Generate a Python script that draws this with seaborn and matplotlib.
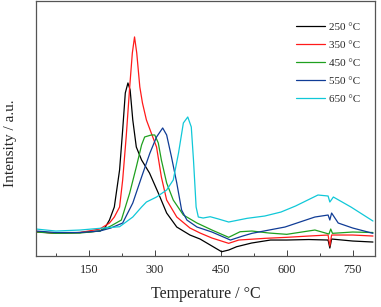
import pandas as pd
import numpy as np
import matplotlib.pyplot as plt
import seaborn as sns

# Curves (temperature in degC, intensity in arbitrary units)
t_250 = [30, 75, 130, 175, 186, 197, 208, 220, 227, 233, 239, 244, 250, 258, 270, 288, 308, 327, 350, 380,
         403, 430, 452, 468, 486, 520, 563, 600, 650, 694, 698, 702, 750, 796]
i_250 = [24.5, 22.7, 23.5, 25, 27.7, 36, 49, 86, 126, 163, 173, 166, 136, 109, 96, 83, 63, 43, 29, 21,
         17, 10, 4.3, 6, 9.3, 13, 16, 16, 16.5, 16, 8, 17, 15, 14]

t_350 = [30, 75, 130, 175, 197, 208, 220, 227, 235, 243, 249, 254, 259, 266, 272, 281, 292, 304, 315, 327,
         350, 380, 403, 430, 468, 491, 551, 600, 650, 694, 698, 702, 750, 796]
i_350 = [24, 23, 23.5, 27, 33, 39, 49, 76, 119, 169, 203, 219, 203, 169, 153, 136, 123, 109, 79, 56,
         39, 28, 23, 18, 12.7, 16, 17.7, 18.7, 20, 21, 10, 21, 21, 20]

t_450 = [30, 75, 130, 175, 200, 224, 243, 258, 270, 277, 292, 300, 308, 315, 327, 342, 365, 396, 430, 468,
         494, 521, 560, 600, 664, 696, 700, 704, 750, 796]
i_450 = [24, 22.7, 23, 25, 30, 36, 63, 89, 111, 119, 121, 121, 113, 96, 73, 56, 41, 33, 26, 18.7,
         24.3, 25, 23, 21.7, 26, 22, 27, 22.7, 24, 23.5]

t_550 = [30, 75, 130, 175, 200, 227, 250, 270, 289, 304, 318, 327, 338, 350, 361, 373, 396, 430, 472, 500,
         521, 560, 596, 630, 664, 694, 698, 702, 717, 750, 796]
i_550 = [25, 23.5, 23.5, 25, 28, 33, 53, 79, 103, 119, 128, 121, 99, 73, 46, 36, 29, 24, 16, 20,
         22.7, 26, 29, 34, 39, 41, 36, 43, 33, 28, 22.7]

t_650 = [30, 75, 130, 175, 220, 250, 270, 281, 304, 327, 342, 354, 365, 375, 383, 388, 394, 399, 410, 426,
         445, 468, 510, 550, 587, 620, 671, 694, 698, 706, 746, 796]
i_650 = [27, 25, 26, 27.7, 29.3, 39, 49, 54, 59, 66, 76, 103, 133, 139, 129, 96, 49, 39, 38, 39.3,
         37, 34, 37.7, 40, 44, 50, 61, 60, 54, 59, 49, 35]

labels = ['250 °C', '350 °C', '450 °C', '550 °C', '650 °C']
colors = ['#000000', '#ff1a1a', '#1fa01f', '#103c96', '#10c8d8']

series = [(t_250, i_250), (t_350, i_350), (t_450, i_450), (t_550, i_550), (t_650, i_650)]
frames = []
for lab, (t, y) in zip(labels, series):
    frames.append(pd.DataFrame({'Temperature': t, 'Intensity': y, 'Sample': lab}))
df = pd.concat(frames, ignore_index=True)

sns.set_style('white')
plt.rcParams['font.family'] = ['Liberation Serif', 'DejaVu Serif']

fig = plt.figure(figsize=(3.81, 3.07), dpi=100)
ax = fig.add_axes([0.0945, 0.166, 0.889, 0.831])

sns.lineplot(data=df, x='Temperature', y='Intensity', hue='Sample',
             palette=dict(zip(labels, colors)), estimator=None, sort=False,
             linewidth=0.9, ax=ax)

ax.set_xlim(30, 800)
ax.set_ylim(0, 255)
ax.set_xticks([150, 300, 450, 600, 750])
ax.set_xticks([75, 225, 375, 525, 675], minor=True)
ax.set_yticks([])
ax.tick_params(axis='x', which='major', direction='in', length=4, width=0.6,
               labelsize=8.8, bottom=True, pad=6)
ax.tick_params(axis='x', which='minor', direction='in', length=2.5, width=0.6, bottom=True)
for s in ax.spines.values():
    s.set_color('#555555')
    s.set_linewidth(0.9)

ax.set_xlabel('Temperature / °C', fontsize=11.5, labelpad=7)
ax.set_ylabel('Intensity / a.u.', fontsize=11)
ax.yaxis.set_label_coords(-0.056, 0.443)

ax.legend(loc='upper right', bbox_to_anchor=(1, 0.973), frameon=False, fontsize=8,
          handlelength=2.6, labelspacing=0.73, borderaxespad=0.9, handletextpad=0.4)

plt.savefig('out.png', dpi=100)
plt.close()
